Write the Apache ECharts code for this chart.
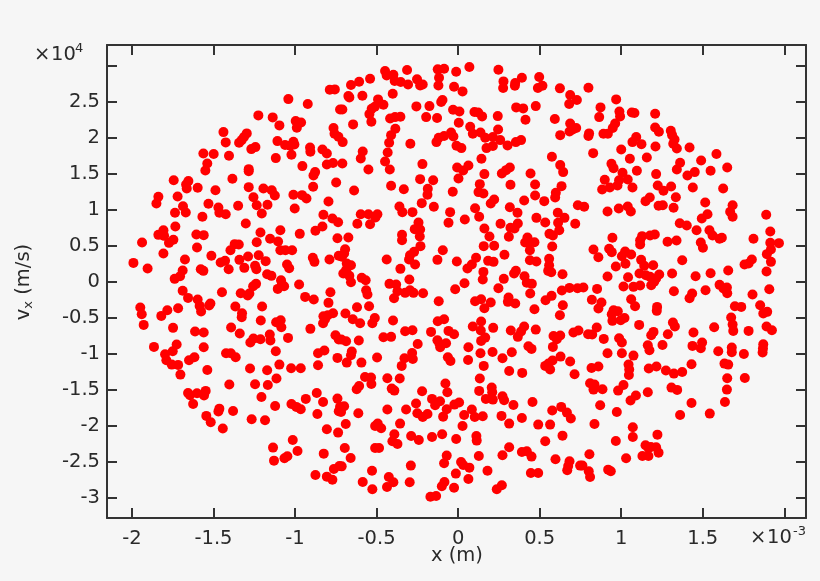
<!DOCTYPE html>
<html><head><meta charset="utf-8">
<style>html,body{margin:0;padding:0;background:#f6f6f6}#c{width:820px;height:581px}</style>
<script src="https://cdn.jsdelivr.net/npm/echarts@6/dist/echarts.min.js"></script>
</head><body><div id="c"></div>
<script>
// x in units of 1e-3 m, vx in units of 1e4 m/s
const xTicks=[-2,-1.5,-1,-0.5,0,0.5,1,1.5,2];
const xLabels=[-2,-1.5,-1,-0.5,0,0.5,1,1.5];
const yTicks=[-3,-2.5,-2,-1.5,-1,-0.5,0,0.5,1,1.5,2,2.5,3];
const yLabels=[-3,-2.5,-2,-1.5,-1,-0.5,0,0.5,1,1.5,2,2.5];
const topLeft=[[-1.041,2.534],[-.922,2.465],[-.787,2.664],[-.756,2.669],[-.724,2.391],[-1.225,2.308],[-1.137,2.28],[-1.096,2.169],[-.996,2.229],[-.963,2.21],[-.989,2.136],[-1.439,2.076],[-1.296,2.058],[-1.313,2.007],[-1.327,1.965],[-1.343,1.928],[-1.425,1.933],[-1.108,1.951],[-1.01,1.942],[-1.061,1.896],[-1.03,1.886],[-1.004,1.905],[-.764,2.132],[-.758,2.053],[-.734,2.011],[-.908,1.863],[-.906,1.803],[-.832,1.835],[-.805,1.78],[-1.243,1.868],[-1.268,1.84],[-1.562,1.78],[-1.499,1.771],[-1.405,1.747],[-1.118,1.715],[-1.022,1.761],[-1.538,1.641],[-1.55,1.544],[-.955,1.604],[-.805,1.627],[-.767,1.646],[-1.284,1.562],[-1.284,1.534],[-.877,1.521],[-.887,1.474],[-1.384,1.428],[-1.744,1.409],[-1.654,1.396],[-1.668,1.349],[-1.664,1.294],[-1.597,1.303],[-1.488,1.27],[-1.284,1.312],[-1.194,1.294],[-1.143,1.27],[-.889,1.317],[-.748,1.377],[-1.124,1.196],[-1.255,1.173],[-1.01,1.206],[-.957,1.201],[-.93,1.155],[-1.72,1.183],[-1.838,1.178],[-1.85,1.085],[-1.687,1.048],[-1.531,1.081],[-1.349,1.053],[-1.235,1.062],[-1.169,1.067],[-.795,1.113],[-1.47,1.03],[-1.002,1.016]];
const topMiddle=[[.069,2.979],[.247,2.942],[-.012,2.914],[-.125,2.947],[-.086,2.956],[-.313,2.937],[-.448,2.923],[-.438,2.863],[-.397,2.872],[-.54,2.817],[-.607,2.775],[-.657,2.729],[-.389,2.785],[-.352,2.771],[-.307,2.738],[-.252,2.808],[-.233,2.724],[-.217,2.738],[-.117,2.831],[-.121,2.724],[-.025,2.706],[.027,2.641],[.278,2.78],[.276,2.687],[.35,2.757],[.348,2.72],[.391,2.831],[.497,2.84],[.489,2.687],[.517,2.72],[.624,2.683],[.687,2.59],[.681,2.465],[.728,2.521],[-.401,2.609],[-.587,2.581],[-.673,2.576],[-.667,2.558],[-.491,2.53],[-.458,2.456],[-.511,2.428],[-.53,2.4],[-.544,2.326],[-.532,2.22],[-.71,2.391],[-.644,2.183],[-.256,2.433],[-.176,2.437],[-.096,2.521],[-.104,2.493],[-.196,2.284],[-.129,2.271],[-.031,2.386],[.008,2.363],[.1,2.354],[.123,2.349],[.147,2.294],[.004,2.206],[.243,2.298],[.356,2.419],[.399,2.405],[.476,2.437],[.413,2.247],[.593,2.257],[.687,2.196],[.683,2.085],[.724,2.132],[.703,2.113],[.626,2.034],[-.417,2.266],[-.387,2.284],[-.354,2.289],[-.385,2.122],[-.411,2.034],[-.423,1.928],[-.293,1.914],[-.432,1.794],[-.585,1.808],[-.597,1.71],[-.448,1.669],[-.419,1.558],[-.55,1.558],[-.71,1.641],[-.219,1.632],[-.043,2.071],[-.029,2.016],[-.086,2.021],[-.119,1.997],[-.133,1.937],[-.708,1.937],[.074,2.15],[.09,2.053],[.137,2.071],[.166,1.997],[.245,2.113],[.213,2.007],[.258,1.965],[.213,1.882],[.174,1.854],[.303,1.891],[.354,1.937],[.386,1.965],[-.01,1.886],[.02,1.854],[.143,1.706],[.575,1.733],[.626,1.618],[.644,1.521],[-.006,1.585],[.031,1.544],[.063,1.613],[.161,1.493],[.002,1.433],[.317,1.585],[.294,1.548],[.268,1.502],[.444,1.502],[.472,1.349],[.321,1.345],[.133,1.354],[.125,1.243],[.155,1.224],[-.033,1.247],[-.233,1.423],[-.153,1.409],[-.186,1.289],[-.188,1.206],[-.411,1.331],[-.333,1.284],[-.638,1.266],[-.223,1.09],[-.36,1.044],[-.149,1.039],[.104,1.02],[.221,1.141],[.2,1.085],[.317,1.034],[.405,1.127],[.472,1.196],[.528,1.118],[.634,1.326],[.599,1.233],[.595,1.169],[.734,1.062]];
const topRight=[[.799,2.692],[.969,2.53],[.873,2.419],[.989,2.363],[.993,2.294],[.865,2.284],[1.065,2.349],[1.081,2.34],[1.208,2.331],[.963,2.196],[.948,2.132],[.891,2.053],[.918,2.053],[.803,2.058],[.799,2.021],[1.208,2.141],[1.231,2.081],[1.304,2.095],[1.312,2.034],[1.327,1.974],[1.319,1.914],[1.341,1.849],[1.092,2.007],[1.069,1.937],[1.124,1.909],[1.21,1.877],[1,1.835],[1.419,1.863],[1.584,1.771],[1.49,1.683],[.828,1.784],[1.053,1.706],[1.157,1.724],[1.361,1.65],[.94,1.636],[.953,1.576],[1.096,1.539],[1.341,1.558],[1.65,1.585],[1.548,1.539],[1.451,1.521],[1.406,1.474],[1.214,1.493],[1.008,1.511],[1.04,1.419],[.987,1.409],[.977,1.335],[.899,1.414],[.883,1.28],[.93,1.307],[1.069,1.307],[1.224,1.335],[1.259,1.261],[1.306,1.321],[1.439,1.307],[1.625,1.294],[1.335,1.173],[1.515,1.099],[1.175,1.169],[1.149,1.118],[1.229,1.053],[1.255,1.062],[1.321,1.025],[1.04,1.044],[.985,1.016],[.773,1.039],[1.683,1.062]];
const midLeft=[[-1.736,.956],[-1.67,.961],[-1.568,.9],[-1.464,.956],[-1.425,.937],[-1.204,.947],[-.826,.928],[-.771,.877],[-.736,.826],[-1.302,.808],[-1.734,.766],[-.832,.766],[-.875,.706],[-1.807,.715],[-1.838,.65],[-1.803,.636],[-1.605,.655],[-1.56,.646],[-1.212,.683],[-1.09,.715],[-.971,.664],[-.74,.604],[-1.153,.595],[-1.104,.558],[-1.746,.581],[-1.773,.539],[-1.938,.544],[-1.235,.548],[-1.37,.521],[-1.345,.516],[-1.601,.474],[-1.396,.437],[-1.09,.437],[-1.059,.437],[-1.018,.437],[-1.807,.391],[-1.513,.359],[-1.223,.368],[-1.288,.349],[-1.341,.303],[-1.429,.289],[-1.456,.266],[-1.18,.285],[-1.675,.308],[-.891,.331],[-.881,.275],[-.789,.308],[-.732,.359],[-1.991,.261],[-1.904,.183],[-1.049,.238],[-1.036,.187],[-1.245,.22],[-1.237,.173],[-1.311,.192],[-1.407,.173],[-1.578,.173],[-1.562,.15],[-1.689,.155],[-1.705,.076],[-1.738,.039],[-1.171,.104],[-1.145,.081],[-1.086,.021],[-1.067,-.063],[-1.106,-.1],[-1.081,-.035],[-.975,-.04],[-1.239,-.03],[-1.257,-.063],[-.783,-.146],[-1.448,-.146],[-1.689,-.127],[-1.333,-.16],[-1.28,-.165],[-1.29,-.192],[-1.656,-.225],[-.938,-.211],[-.885,-.248],[-1.597,-.248],[-.795,-.294],[-1.519,-.303],[-1.527,-.331],[-1.585,-.336],[-1.576,-.415],[-1.366,-.345],[-1.202,-.345],[-1.717,-.368],[-1.783,-.396],[-1.82,-.475],[-1.949,-.359],[-1.94,-.452],[-1.928,-.6],[-1.325,-.438],[-1.327,-.493],[-1.21,-.54],[-1.088,-.535],[-1.116,-.563],[-1.084,-.632],[-.767,-.438],[-.799,-.465],[-.826,-.479],[-.816,-.521],[-.828,-.577],[-1.748,-.641],[-1.392,-.637],[-.906,-.655],[-1.613,-.692],[-1.56,-.706],[-1.339,-.72],[-1.155,-.734],[-1.151,-.817],[-1.212,-.799],[-1.255,-.79],[-1.274,-.845],[-1.043,-.78],[-.752,-.743],[-.732,-.803],[-1.726,-.873],[-1.865,-.905],[-1.56,-.91],[-1.75,-.966],[-1.797,-1.007],[-1.789,-1.09],[-1.118,-.966],[-1.423,-.993],[-1.394,-.993],[-1.364,-1.049],[-1.617,-1.049],[-1.65,-1.09],[-1.756,-1.151],[-1.717,-1.155],[-.859,-.993],[-.82,-.956],[-.74,-1.058],[-1.096,-1.151],[-.859,-1.16],[-1.276,-1.206],[-1.171,-1.229],[-1.024,-1.202],[-.965,-1.202],[-1.538,-1.225],[-1.703,-1.29],[-1.114,-1.345]];
const midMiddle=[[-.597,.937],[-.55,.937],[-.495,.937],[-.507,.891],[-.342,.965],[-.28,.965],[-.049,.965],[.129,.9],[.364,.956],[.041,.863],[-.059,.817],[-.618,.803],[-.54,.798],[-.243,.822],[-.266,.729],[-.233,.724],[-.344,.65],[-.344,.576],[-.235,.627],[-.231,.493],[.161,.738],[.192,.627],[.26,.803],[.321,.748],[.366,.808],[.346,.738],[.311,.623],[.48,.886],[.534,.822],[.611,.956],[.652,.886],[.613,.817],[.62,.715],[.718,.803],[.56,.664],[.581,.641],[.577,.488],[.425,.613],[.411,.544],[.468,.548],[.438,.548],[.44,.437],[.157,.493],[.221,.498],[-.673,.613],[-.693,.451],[-.699,.391],[-.712,.345],[-.657,.229],[-.683,.252],[-.687,.16],[-.704,.113],[-.667,.081],[-.657,-.007],[-.591,.053],[-.567,.021],[-.564,-.118],[-.556,-.178],[-.438,.308],[-.354,.178],[-.127,.303],[-.094,.437],[-.27,.414],[-.295,.368],[-.301,.308],[-.264,.238],[-.008,.28],[.11,.331],[.084,.238],[.057,.183],[.184,.289],[.217,.275],[.284,.373],[.155,.136],[.151,.03],[.44,.298],[.48,.28],[.558,.317],[.558,.229],[.571,.132],[.552,.15],[.354,.15],[.343,.113],[.64,.104],[.407,.076],[.421,-.016],[.452,-.03],[.28,.039],[.247,-.09],[.039,-.021],[-.018,-.104],[-.421,-.03],[-.38,-.04],[-.299,.03],[-.372,-.132],[-.325,-.155],[-.295,-.118],[-.274,-.155],[-.215,-.16],[-.393,-.229],[.442,-.165],[.636,-.123],[.683,-.086],[.732,-.09],[.573,-.197],[.536,-.257],[.309,-.22],[.305,-.28],[.35,-.303],[.141,-.243],[.104,-.271],[.2,-.29],[.161,-.368],[-.119,-.271],[.468,-.382],[.642,-.327],[.624,-.466],[-.62,-.354],[-.546,-.34],[-.691,-.442],[-.646,-.521],[-.601,-.577],[-.511,-.503],[-.526,-.577],[-.399,-.54],[-.086,-.521],[-.125,-.549],[.141,-.553],[.09,-.623],[.215,-.641],[.139,-.678],[.323,-.678],[.405,-.623],[.386,-.692],[.366,-.766],[.476,-.665],[-.325,-.688],[-.28,-.674],[-.166,-.697],[-.059,-.683],[-.025,-.729],[.707,-.706],[.738,-.678],[.585,-.753],[.626,-.748],[.605,-.799],[.581,-.905],[-.458,-.771],[-.411,-.766],[-.609,-.817],[-.687,-.827],[-.716,-.803],[-.248,-.864],[-.127,-.813],[-.115,-.859],[-.074,-.854],[-.11,-.91],[.166,-.776],[.141,-.822],[.063,-.91],[.137,-.993],[.211,-.975],[.329,-.979],[.272,-1.063],[.431,-.896],[.45,-.933],[-.652,-.97],[-.657,-1.021],[-.497,-1.053],[-.282,-.989],[-.329,-1.063],[-.278,-1.072],[-.346,-1.169],[-.063,-1.049],[-.047,-1.1],[.061,-1.086],[-.683,-1.123],[-.593,-1.123],[.157,-1.169],[.313,-1.239],[.393,-1.266],[.628,-1.04],[.687,-1.109],[.579,-1.095],[.554,-1.137],[.534,-1.169],[.564,-1.22],[.714,-1.285],[-.571,-1.322],[-.534,-1.331],[-.434,-1.34],[-.358,-1.345],[.133,-1.345]];
const midRight=[[.916,.974],[1.059,.974],[1.529,.937],[1.494,.877],[1.668,.97],[1.683,.9],[1.889,.928],[1.359,.812],[1.402,.78],[1.462,.715],[1.541,.715],[1.56,.641],[1.617,.609],[1.603,.595],[1.914,.697],[1.811,.595],[1.914,.539],[1.967,.535],[1.206,.655],[1.177,.641],[1.128,.632],[1.116,.576],[1.116,.516],[1.284,.553],[1.339,.572],[.946,.609],[1.488,.544],[1.501,.47],[.83,.447],[.86,.34],[.926,.456],[.942,.41],[1.024,.419],[1.004,.354],[1.061,.377],[1.918,.447],[1.893,.382],[1.918,.275],[1.801,.308],[1.781,.252],[1.756,.238],[1.122,.303],[1.374,.298],[1.026,.248],[.967,.211],[1.141,.22],[1.196,.229],[1.891,.141],[1.656,.155],[1.548,.118],[1.312,.113],[1.112,.113],[1.151,.09],[1.177,.067],[1.233,.099],[1.214,.044],[.916,.072],[1.042,.062],[1.456,.076],[1.202,-.002],[1.184,-.049],[1.116,-.053],[1.075,-.072],[1.014,-.067],[1.603,-.044],[1.627,-.095],[1.648,-.081],[1.65,-.16],[.768,-.081],[.852,-.1],[1.323,-.132],[1.517,-.118],[1.908,-.104],[1.435,-.165],[1.419,-.229],[1.805,-.178],[.82,-.252],[.879,-.29],[.86,-.373],[1.061,-.243],[1.085,-.34],[1.22,-.35],[1.218,-.405],[1.697,-.34],[1.736,-.35],[1.852,-.327],[1.895,-.419],[1.871,-.442],[1.674,-.498],[1.683,-.595],[1.687,-.683],[.953,-.396],[.979,-.41],[.942,-.452],[1.02,-.503],[.997,-.535],[.946,-.544],[1.317,-.567],[1.329,-.623],[1.11,-.6],[1.57,-.632],[1.891,-.623],[1.924,-.674],[1.781,-.683],[.85,-.637],[1.198,-.697],[1.184,-.743],[1.286,-.729],[1.443,-.706],[.797,-.729],[.822,-.734],[.893,-.794],[.987,-.785],[1.004,-.845],[1.496,-.845],[1.437,-.891],[1.488,-.924],[1.253,-.878],[1.163,-.882],[1.173,-.952],[1.871,-.868],[1.867,-.984],[1.869,-.928],[1.678,-.915],[1.678,-.979],[1.595,-.966],[1.752,-1.003],[.916,-.993],[1.004,-.993],[1.075,-1.026],[1.431,-1.146],[1.045,-1.151],[1.049,-1.22],[1.047,-1.294],[.818,-1.197],[.86,-1.178],[1.169,-1.206],[1.216,-1.178],[1.274,-1.234],[1.323,-1.276],[1.374,-1.253],[1.633,-1.137],[1.656,-1.151],[1.65,-1.341],[1.758,-1.336]];
const bottomLeft=[[-1.403,-1.428],[-1.245,-1.424],[-1.167,-1.433],[-1.656,-1.544],[-1.644,-1.576],[-1.601,-1.549],[-1.548,-1.516],[-1.558,-1.581],[-1.625,-1.697],[-1.206,-1.6],[-1.122,-1.725],[-1.464,-1.762],[-1.47,-1.803],[-1.38,-1.794],[-1.544,-1.863],[-1.517,-1.951],[-1.443,-2.039],[-1.266,-1.91],[-1.184,-1.924],[-1.022,-1.697],[-.992,-1.738],[-.965,-1.771],[-.934,-1.627],[-.867,-1.544],[-.828,-1.669],[-.74,-1.623],[-.863,-1.836],[-.724,-1.738],[-.732,-1.799],[-.805,-2.049],[-.736,-2.095],[-1.014,-2.197],[-1.135,-2.303],[-.985,-2.35],[-.824,-2.387],[-1.047,-2.424],[-1.065,-2.451],[-1.129,-2.484],[-.762,-2.6],[-.728,-2.558],[-.875,-2.683],[-.805,-2.706],[-.771,-2.748]];
const bottomMiddle=[[-.078,-1.414],[-.066,-1.535],[.129,-1.516],[.206,-1.47],[.209,-1.535],[.17,-1.627],[.213,-1.637],[.272,-1.59],[.282,-1.646],[.339,-1.711],[.456,-1.669],[.577,-1.789],[.632,-1.738],[.667,-1.817],[.691,-1.9],[-.607,-1.447],[-.622,-1.493],[-.532,-1.419],[-.407,-1.484],[-.391,-1.512],[-.221,-1.521],[-.16,-1.627],[-.111,-1.66],[-.141,-1.715],[-.258,-1.692],[-.023,-1.706],[.006,-1.678],[-.07,-1.771],[-.319,-1.775],[-.434,-1.775],[-.699,-1.729],[-.718,-1.808],[-.612,-1.826],[-.25,-1.826],[-.217,-1.877],[-.188,-1.836],[-.092,-1.873],[.084,-1.775],[.102,-1.877],[.151,-1.868],[.037,-1.85],[.027,-2.002],[.266,-1.863],[.313,-1.97],[.391,-1.891],[.491,-1.984],[.564,-1.984],[.64,-2.137],[.534,-2.215],[-.689,-1.975],[-.356,-1.97],[-.509,-2.002],[-.493,-1.97],[-.472,-2.035],[-.391,-2.118],[-.288,-2.141],[-.241,-2.197],[-.16,-2.155],[-.098,-2.118],[-.012,-2.183],[.112,-2.141],[.114,-2.206],[-.403,-2.215],[-.372,-2.252],[-.509,-2.308],[-.485,-2.308],[-.695,-2.308],[-.659,-2.447],[-.714,-2.563],[.313,-2.299],[.391,-2.363],[.421,-2.354],[.45,-2.428],[.272,-2.41],[.127,-2.419],[-.07,-2.414],[-.086,-2.521],[.018,-2.502],[.031,-2.544],[.069,-2.581],[-.29,-2.553],[-.014,-2.664],[.18,-2.623],[.063,-2.738],[-.528,-2.623],[-.425,-2.711],[-.397,-2.785],[-.436,-2.85],[-.585,-2.78],[-.526,-2.882],[-.297,-2.785],[-.084,-2.78],[-.1,-2.84],[-.025,-2.859],[.268,-2.826],[.237,-2.882],[-.17,-2.984],[-.135,-2.975],[.446,-2.655],[.491,-2.655],[.597,-2.465],[.683,-2.493],[.675,-2.558],[.669,-2.618],[.748,-2.553]];
const bottomRight=[[.809,-1.41],[.836,-1.428],[.83,-1.498],[.885,-1.493],[1.014,-1.433],[.981,-1.512],[1.163,-1.535],[1.09,-1.581],[1.057,-1.65],[1.308,-1.47],[1.343,-1.502],[1.648,-1.498],[1.636,-1.669],[1.431,-1.683],[.871,-1.715],[.973,-1.808],[1.361,-1.85],[1.543,-1.831],[.836,-1.975],[1.071,-2.021],[1.071,-2.155],[1.222,-2.123],[.967,-2.211],[1.149,-2.271],[1.182,-2.294],[1.167,-2.308],[1.214,-2.299],[1.229,-2.373],[1.13,-2.419],[1.167,-2.419],[1.03,-2.451],[.805,-2.396],[.762,-2.553],[.801,-2.632],[.809,-2.711],[.92,-2.609],[.936,-2.632]];

const points=[].concat(topLeft,topMiddle,topRight,midLeft,midMiddle,midRight,bottomLeft,bottomMiddle,bottomRight);
const XMIN=-2.153,XMAX=2.133,YMIN=-3.28,YMAX=3.285;
const font='"DejaVu Sans"',ink='#333333',lab='#2a2a2a',FS=19.5;
const fmt=v=>String(Math.round(v*10)/10);
function xAx(pos,labels){return {type:'value',position:pos,min:XMIN,max:XMAX,splitLine:{show:false},
  axisLine:{show:true,onZero:false,lineStyle:{color:ink,width:2}},
  axisTick:{show:true,inside:true,length:10,customValues:xTicks,lineStyle:{color:ink,width:2}},
  axisLabel:labels?{show:true,customValues:xLabels,formatter:fmt,margin:11,fontFamily:font,fontSize:FS,color:lab,hideOverlap:false,showMinLabel:true,showMaxLabel:true}:{show:false}};}
function yAx(pos,labels){return {type:'value',position:pos,min:YMIN,max:YMAX,splitLine:{show:false},
  axisLine:{show:true,onZero:false,lineStyle:{color:ink,width:2}},
  axisTick:{show:true,inside:true,length:10,customValues:yTicks,lineStyle:{color:ink,width:2}},
  axisLabel:labels?{show:true,customValues:yLabels,formatter:fmt,margin:7,fontFamily:font,fontSize:FS,color:lab,hideOverlap:false,showMinLabel:true,showMaxLabel:true}:{show:false}};}
const chart=echarts.init(document.getElementById('c'),null,{renderer:'canvas'});
chart.setOption({animation:false,backgroundColor:'#f6f6f6',
 grid:{left:107,right:14,top:45,bottom:63,containLabel:false},
 xAxis:[xAx('bottom',true),xAx('top',false)],
 yAxis:[yAx('left',true),yAx('right',false)],
 series:[{type:'scatter',xAxisIndex:0,yAxisIndex:0,data:points,symbol:'circle',symbolSize:10,itemStyle:{color:'#ff0000',opacity:1},silent:true}],
 graphic:[
  {type:'text',left:431,top:546,silent:true,style:{text:'x (m)',fontFamily:font,fontSize:FS,fill:lab}},
  {type:'text',x:24,y:282,rotation:Math.PI/2,silent:true,style:{text:'{a|v}{s|x}{a| (m/s)}',align:'center',verticalAlign:'middle',rich:{a:{fontFamily:font,fontSize:FS,fill:lab},s:{fontFamily:font,fontSize:13,fill:lab,verticalAlign:'bottom',padding:[10,0,0,0]}}}},
  {type:'text',left:34,top:45,silent:true,style:{text:'×',fontFamily:font,fontSize:FS,fill:lab}},
  {type:'text',left:51,top:45,silent:true,style:{text:'10',fontFamily:font,fontSize:FS,fill:lab}},
  {type:'text',left:75,top:42,silent:true,style:{text:'4',fontFamily:font,fontSize:13,fill:lab}},
  {type:'text',left:750,top:528,silent:true,style:{text:'×',fontFamily:font,fontSize:FS,fill:lab}},
  {type:'text',left:767,top:528,silent:true,style:{text:'10',fontFamily:font,fontSize:FS,fill:lab}},
  {type:'text',left:793,top:525,silent:true,style:{text:'-3',fontFamily:font,fontSize:13,fill:lab}}
 ]});
</script></body></html>
